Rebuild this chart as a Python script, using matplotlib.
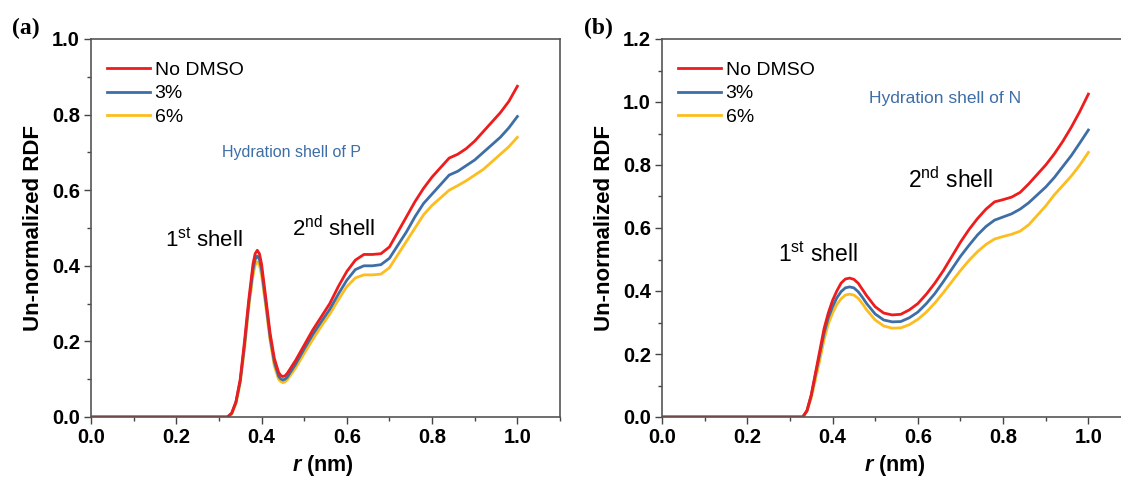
import matplotlib
matplotlib.use("Agg")
import matplotlib.pyplot as plt
from matplotlib.ticker import MultipleLocator

plt.rcParams['font.family'] = ['Liberation Sans', 'DejaVu Sans']
plt.rcParams['mathtext.fontset'] = 'custom'
plt.rcParams['mathtext.rm'] = 'Liberation Sans'
plt.rcParams['mathtext.it'] = 'Liberation Sans:italic'
plt.rcParams['mathtext.bf'] = 'Liberation Sans:bold'
plt.rcParams['mathtext.bfit'] = 'Liberation Sans:bold:italic'

series_labels = ["No DMSO", "3%", "6%"]
colors = ["#ee1c1c", "#3d6ea6", "#fdbd1e"]

# Panel (a): hydration shell of P
r_a = [0.0, 0.32, 0.33, 0.34, 0.35, 0.36, 0.37, 0.38, 0.385, 0.39, 0.395, 0.40, 0.41, 0.42, 0.43,
       0.44, 0.445, 0.45, 0.455, 0.46, 0.48, 0.50, 0.52, 0.54, 0.56, 0.58, 0.60, 0.62, 0.64, 0.66,
       0.68, 0.70, 0.72, 0.74, 0.76, 0.78, 0.80, 0.82, 0.84, 0.86, 0.88, 0.90, 0.92,
       0.94, 0.96, 0.98, 1.00]
a_nodmso = [0, 0, 0.010, 0.040, 0.100, 0.200, 0.310, 0.405, 0.432, 0.441, 0.432, 0.405, 0.315, 0.222, 0.155,
            0.118, 0.110, 0.107, 0.109, 0.115, 0.150, 0.190, 0.230, 0.265, 0.300, 0.345, 0.385, 0.415, 0.430, 0.430,
            0.432, 0.450, 0.490, 0.530, 0.570, 0.605, 0.635, 0.660, 0.685, 0.695, 0.710, 0.730, 0.755,
            0.780, 0.805, 0.835, 0.875]
a_3 = [0, 0, 0.010, 0.040, 0.095, 0.190, 0.300, 0.390, 0.417, 0.426, 0.417, 0.390, 0.303, 0.212, 0.145,
       0.108, 0.101, 0.098, 0.100, 0.105, 0.140, 0.180, 0.218, 0.252, 0.285, 0.325, 0.362, 0.390, 0.400, 0.400,
       0.403, 0.420, 0.455, 0.490, 0.530, 0.565, 0.590, 0.615, 0.640, 0.650, 0.665, 0.680, 0.700,
       0.720, 0.740, 0.765, 0.795]
a_6 = [0, 0, 0.008, 0.035, 0.090, 0.180, 0.290, 0.375, 0.402, 0.411, 0.402, 0.376, 0.292, 0.202, 0.135,
       0.100, 0.094, 0.091, 0.093, 0.098, 0.130, 0.168, 0.205, 0.240, 0.272, 0.310, 0.345, 0.368, 0.376, 0.376,
       0.378, 0.395, 0.430, 0.465, 0.500, 0.535, 0.560, 0.580, 0.600, 0.612, 0.625, 0.640, 0.655,
       0.675, 0.695, 0.715, 0.740]

# Panel (b): hydration shell of N
r_b = [0.0, 0.33, 0.34, 0.35, 0.36, 0.37, 0.38, 0.39, 0.40, 0.41, 0.42, 0.43, 0.44, 0.45,
       0.46, 0.47, 0.48, 0.50, 0.52, 0.54, 0.56, 0.58, 0.60, 0.62, 0.64, 0.66, 0.68, 0.70,
       0.72, 0.74, 0.76, 0.78, 0.80, 0.82, 0.84, 0.86, 0.88, 0.90, 0.92, 0.94, 0.96, 0.98, 1.00]
b_nodmso = [0, 0, 0.020, 0.070, 0.140, 0.210, 0.280, 0.330, 0.370, 0.400, 0.425, 0.438, 0.441, 0.437,
            0.425, 0.405, 0.385, 0.350, 0.330, 0.324, 0.326, 0.340, 0.360, 0.390, 0.425, 0.465, 0.510, 0.555,
            0.595, 0.630, 0.660, 0.683, 0.690, 0.698, 0.713, 0.740, 0.770, 0.800, 0.835, 0.875, 0.920, 0.970, 1.025]
b_3 = [0, 0, 0.020, 0.068, 0.135, 0.200, 0.265, 0.315, 0.350, 0.378, 0.398, 0.410, 0.413, 0.410,
       0.398, 0.380, 0.360, 0.327, 0.308, 0.302, 0.303, 0.315, 0.333, 0.360, 0.392, 0.430, 0.470, 0.510,
       0.545, 0.578, 0.605, 0.625, 0.635, 0.645, 0.660, 0.680, 0.705, 0.730, 0.760, 0.795, 0.830, 0.870, 0.911]
b_6 = [0, 0, 0.018, 0.060, 0.120, 0.180, 0.245, 0.295, 0.330, 0.357, 0.375, 0.387, 0.390, 0.387,
       0.377, 0.360, 0.340, 0.308, 0.289, 0.282, 0.283, 0.293, 0.310, 0.333, 0.362, 0.395, 0.430, 0.465,
       0.497, 0.525, 0.548, 0.565, 0.573, 0.580, 0.590, 0.610, 0.640, 0.670, 0.705, 0.735, 0.765, 0.800, 0.840]

W, H = 1121, 479
fig = plt.figure(figsize=(W / 100, H / 100), dpi=100)

def px_axes(x0, y_top, x1, y_bot):
    return [x0 / W, (H - y_bot) / H, (x1 - x0) / W, (y_bot - y_top) / H]

ax1 = fig.add_axes(px_axes(91, 39, 560, 417))
ax2 = fig.add_axes(px_axes(662, 39, 1131, 417))

panels = [
    (ax1, r_a, [a_nodmso, a_3, a_6], 1.0),
    (ax2, r_b, [b_nodmso, b_3, b_6], 1.2),
]

for ax, r, ys, ymax in panels:
    for y, c, lab in zip(ys[::-1], colors[::-1], series_labels[::-1]):
        ax.plot(r, y, color=c, lw=2.0, label=lab, solid_joinstyle='round')
    ax.set_xlim(0, 1.1)
    ax.set_ylim(0, ymax)
    ax.xaxis.set_minor_locator(MultipleLocator(0.1))
    ax.yaxis.set_major_locator(MultipleLocator(0.2))
    ax.yaxis.set_minor_locator(MultipleLocator(0.1))
    ax.set_xticks([0.0, 0.2, 0.4, 0.6, 0.8, 1.0])
    ax.tick_params(which='both', direction='out', top=False, right=False, color='#444444')
    ax.tick_params(which='major', length=5, width=1.0, labelsize=14.5, pad=3)
    ax.tick_params(which='minor', length=3, width=1.0)
    for lbl in ax.get_xticklabels() + ax.get_yticklabels():
        lbl.set_fontweight('bold')
    for s in ax.spines.values():
        s.set_color('#555555')
        s.set_linewidth(1.2)
    ax.set_ylabel('Un-normalized RDF', fontsize=16, fontweight='bold', labelpad=6)
    handles, labels = ax.get_legend_handles_labels()
    ax.legend(handles[::-1], labels[::-1], loc='upper left',
              bbox_to_anchor=(16 / 469, 1 - 22 / 378), frameon=False, fontsize=14,
              handlelength=2.2, handletextpad=0.25, labelspacing=0.32, borderpad=0,
              borderaxespad=0)

# x labels with italic bold r
for cx in [323, 895]:
    fig.text(cx / W, (H - 466) / H, r'$\mathbfit{r}$ (nm)', ha='center', va='center',
             fontsize=15.5, fontweight='bold')

# annotations panel (a)
fig.text(222 / W, (H - 153) / H, 'Hydration shell of P', color='#3d6ea6', fontsize=11.5,
         va='center', ha='left')
fig.text(165 / W, (H - 240) / H, r'1$^{\mathrm{st}}$ shell', fontsize=16, va='center', ha='left')
fig.text(292 / W, (H - 229) / H, r'2$^{\mathrm{nd}}$ shell', fontsize=16, va='center', ha='left')
# annotations panel (b)
fig.text(869 / W, (H - 98) / H, 'Hydration shell of N', color='#3d6ea6', fontsize=12.5,
         va='center', ha='left')
fig.text(778 / W, (H - 255) / H, r'1$^{\mathrm{st}}$ shell', fontsize=16.5, va='center', ha='left')
fig.text(908 / W, (H - 180) / H, r'2$^{\mathrm{nd}}$ shell', fontsize=16.5, va='center', ha='left')

# panel labels
fig.text(12 / W, (H - 28) / H, '(a)', family='Liberation Serif', fontweight='bold',
         fontsize=17, va='center', ha='left')
fig.text(584 / W, (H - 28) / H, '(b)', family='Liberation Serif', fontweight='bold',
         fontsize=17, va='center', ha='left')

fig.savefig('out.png', dpi=100)
